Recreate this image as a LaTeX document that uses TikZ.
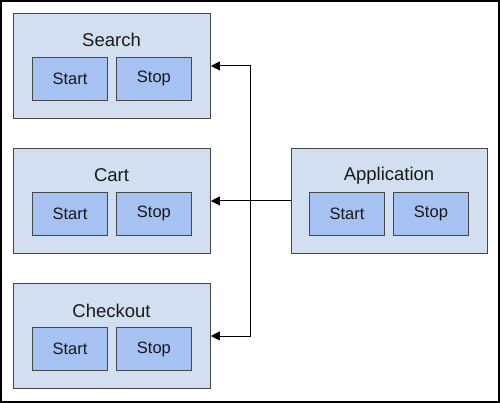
\documentclass[tikz,border=0pt]{standalone}
\usepackage{fontspec}
\setmainfont{Liberation Sans}
\usetikzlibrary{arrows.meta}
\definecolor{outerfill}{RGB}{209,223,241}
\definecolor{innerfill}{RGB}{165,194,243}
\definecolor{edgecol}{RGB}{70,70,70}
\definecolor{textcol}{RGB}{25,25,25}
\begin{document}
\begin{tikzpicture}[x=1pt,y=-1pt,
  modbox/.style={rectangle, draw=edgecol, line width=0.9pt, fill=outerfill, minimum width=197pt, minimum height=105pt, inner sep=0pt, anchor=north west},
  btn/.style={rectangle, draw=edgecol, line width=0.9pt, fill=innerfill, minimum width=75pt, minimum height=43pt, inner sep=0pt, anchor=north west, text=textcol, font=\fontsize{16.5}{18}\selectfont},
  ttl/.style={anchor=base, inner sep=0pt, text=textcol, font=\fontsize{18.5}{20}\selectfont},
  link/.style={line width=0.9pt, draw=black, -{Triangle[length=9pt,width=9pt]}}]
\useasboundingbox (0,0) rectangle (500,403);
\draw[line width=2pt] (1,1) rectangle (499,402);

% Search
\node[modbox] (search) at (13,13) {};
\node[ttl] (searchT) at (111.5,47) {Search};
\node[btn] (searchStart) at (32,57) {Start};
\node[btn] (searchStop) at (116,57) {Stop};

% Cart
\node[modbox] (cart) at (13,148) {};
\node[ttl] (cartT) at (111.5,182) {Cart};
\node[btn] (cartStart) at (32,192) {Start};
\node[btn] (cartStop) at (116,192) {Stop};

% Checkout
\node[modbox] (checkout) at (13,283) {};
\node[ttl] (checkoutT) at (111.5,317) {Checkout};
\node[btn] (checkoutStart) at (32,327) {Start};
\node[btn] (checkoutStop) at (116,327) {Stop};

% Application
\node[modbox, minimum width=196pt] (app) at (291,148) {};
\node[ttl] (appT) at (389,181) {Application};
\node[btn] (appStart) at (309,192) {Start};
\node[btn] (appStop) at (393,192) {Stop};

% connectors
\coordinate (junc) at (250,201);
\draw[link] (app.west) -- (cart.east);
\draw[link] (junc) |- (search.east);
\draw[link] (junc) |- (checkout.east);
\end{tikzpicture}
\end{document}
